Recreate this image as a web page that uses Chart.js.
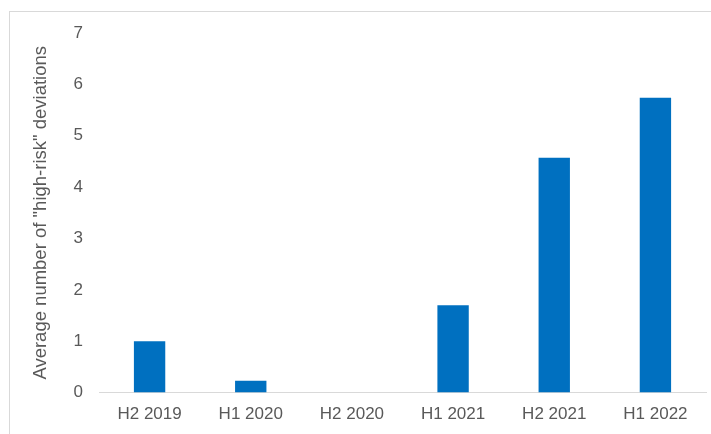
<!DOCTYPE html>
<html>
<head>
<meta charset="utf-8">
<script src="https://cdn.jsdelivr.net/npm/chart.js@4.4.0/dist/chart.umd.min.js"></script>
<style>
  html, body { margin: 0; padding: 0; background: #fff; }
  #frame {
    position: absolute; left: 9px; top: 11px; width: 740px; height: 460px;
    border: 1px solid #d9d9d9; box-sizing: border-box;
  }
  #wrap { position: absolute; left: 0; top: 0; width: 711px; height: 434px; }
</style>
</head>
<body>
<div id="frame"></div>
<div id="wrap"><canvas id="myChart" width="711" height="434"></canvas></div>
<script>
const categories = ['H2 2019', 'H1 2020', 'H2 2020', 'H1 2021', 'H2 2021', 'H1 2022'];
const deviations = [1.0, 0.23, 0, 1.7, 4.57, 5.74];
const yTicks = [0, 1, 2, 3, 4, 5, 6, 7];

const textColor = '#595959';
const tickFont = { family: 'Liberation Sans, Arial, sans-serif', size: 17 };
const titleFont = { family: 'Liberation Sans, Arial, sans-serif', size: 18.5 };

const ctx = document.getElementById('myChart').getContext('2d');
new Chart(ctx, {
  type: 'bar',
  data: {
    labels: categories,
    datasets: [{
      data: deviations,
      backgroundColor: '#0070c0',
      barPercentage: 0.31,
      categoryPercentage: 1
    }]
  },
  options: {
    responsive: false,
    animation: false,
    layout: { padding: { top: 33, right: 5, bottom: 5, left: 0 } },
    plugins: { legend: { display: false }, tooltip: { enabled: false } },
    scales: {
      x: {
        grid: { display: false },
        border: { color: '#d9d9d9', width: 1 },
        ticks: { color: textColor, font: tickFont, padding: 4, maxRotation: 0 }
      },
      y: {
        min: 0,
        max: 7,
        afterBuildTicks: (axis) => { axis.ticks = yTicks.map(v => ({ value: v })); },
        afterFit: (axis) => { axis.width = 99; },
        grid: { display: false },
        border: { display: false },
        ticks: { color: textColor, font: tickFont, padding: 8 },
        title: {
          display: true,
          text: 'Average number of "high-risk" deviations',
          color: textColor,
          font: titleFont,
          padding: { top: 30, bottom: 0 }
        }
      }
    }
  }
});
</script>
</body>
</html>
